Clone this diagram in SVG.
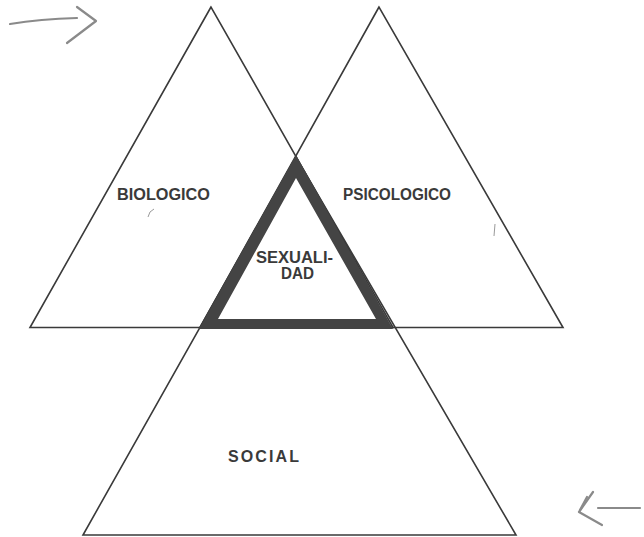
<svg xmlns="http://www.w3.org/2000/svg" width="644" height="537" viewBox="0 0 644 537">
<style>
.thin{fill:none;stroke:#3a3a3a;stroke-width:1.6;stroke-linejoin:miter}
.lbl{font-family:"Liberation Sans",Arial,sans-serif;font-weight:bold;font-size:16px;fill:#3a3a3a}
.hand{fill:none;stroke:#8a8a8a;stroke-width:2.2;stroke-linecap:round;stroke-linejoin:round}
.mark{fill:none;stroke:#9a9a9a;stroke-width:1}
</style>
<rect width="644" height="537" fill="#ffffff"/>
<g id="biologico">
<polygon class="thin" points="211,7 30,327.5 393,327.5"/>
<text class="lbl" x="117" y="200" textLength="93" lengthAdjust="spacingAndGlyphs">BIOLOGICO</text>
</g>
<g id="psicologico">
<polygon class="thin" points="379,7 200,327.5 563,327.5"/>
<text class="lbl" x="343" y="200" textLength="108" lengthAdjust="spacingAndGlyphs">PSICOLOGICO</text>
</g>
<g id="social">
<polygon class="thin" points="296,157 83,535 516,535"/>
<text class="lbl" x="228" y="462" textLength="71" lengthAdjust="spacing">SOCIAL</text>
</g>
<g id="sexualidad">
<path fill="#444444" fill-rule="evenodd" d="M296,155 L199,329 L393,329 Z M296,178 L218,319 L376,319 Z"/>
<text class="lbl" x="256" y="262.5" textLength="77" lengthAdjust="spacingAndGlyphs">SEXUALI-</text>
<text class="lbl" x="281" y="278.5" textLength="33" lengthAdjust="spacingAndGlyphs">DAD</text>
</g>
<g id="connectors">
<path class="hand" d="M10,24 Q40,19 77,18"/>
<path class="hand" d="M77,7 L96,21 L67,43"/>
<path class="hand" d="M598,508 L640,508"/>
<path class="hand" d="M593,492 L579,512 L602,525"/>
<path class="hand" d="M587,497 L580,510"/>
</g>
<path class="mark" d="M148,217 Q149,211 154,209"/>
<path class="mark" d="M494,236 L495,224"/>
</svg>
